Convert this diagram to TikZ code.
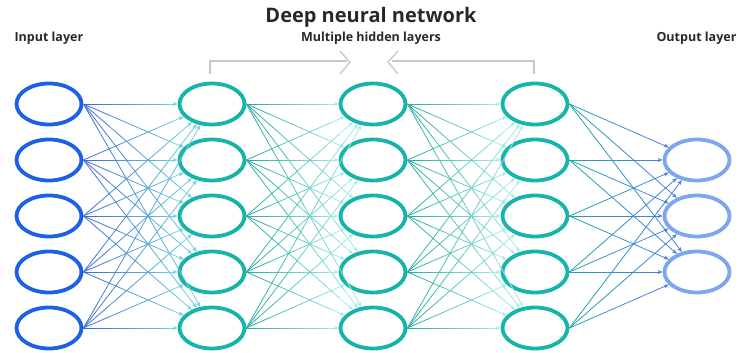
\documentclass[tikz,border=0pt]{standalone}
\usepackage{fontspec}
\setmainfont{Open Sans}
\usetikzlibrary{shapes.geometric,calc,arrows.meta}
\definecolor{inblue}{RGB}{30,95,232}
\definecolor{hidteal}{RGB}{22,180,170}
\definecolor{outblue}{RGB}{125,165,240}
\definecolor{einS}{RGB}{60,105,205}
\definecolor{einE}{RGB}{110,210,220}
\definecolor{ehS}{RGB}{35,170,160}
\definecolor{ehE}{RGB}{165,235,230}
\definecolor{eoS}{RGB}{35,165,160}
\definecolor{eoE}{RGB}{75,125,230}
\definecolor{brk}{RGB}{200,200,200}
\definecolor{txt}{RGB}{40,40,40}
\newcommand\gradedge[4]{%
  \path let \p1=($(#1.east)-(#2.center)$), \n1={atan2(\y1,\x1)} in coordinate (E) at (#2.\n1);
  \foreach \k in {0,...,6}{%
    \pgfmathsetmacro\pa{\k/8}\pgfmathsetmacro\pb{(\k+1)/8}\pgfmathsetmacro\mx{100-100*(\k+0.5)/8}%
    \draw[edgeline, color=#3!\mx!#4] ($(#1.east)!\pa!(E)$) -- ($(#1.east)!\pb!(E)$);
  }
  \draw[edgeline, color=#4, -{Stealth[length=5pt,width=4pt]}] ($(#1.east)!0.875!(E)$) -- (E);
}
\begin{document}
\begin{tikzpicture}[x=1pt,y=-1pt,
  neuron/.style={ellipse,draw,line width=3.8pt,minimum width=65pt,minimum height=41pt,inner sep=0pt},
  edgeline/.style={line width=0.8pt},
  lbl/.style={font=\fontsize{12.5}{14}\selectfont\bfseries, text=txt},
  brkline/.style={draw=brk,line width=1.3pt}]
\useasboundingbox (0,0) rectangle (739,353);
\node[font=\fontsize{20}{22}\selectfont\bfseries, text=txt] (title) at (371,17) {Deep neural network};
\node[lbl,anchor=west] (inlbl) at (11,38) {Input layer};
\node[lbl] (hidlbl) at (371,38) {Multiple hidden layers};
\node[lbl,anchor=east] (outlbl) at (740,38) {Output layer};
% bracket
\draw[brkline] (210,74) -- (210,61) -- (347,61);
\draw[brkline] (340,51) -- (350,62) -- (340,74);
\draw[brkline] (398,51) -- (388,62) -- (398,74);
\draw[brkline] (392,61) -- (534,61) -- (534,74);
% nodes
\foreach \i in {1,...,5}{
  \node[neuron,draw=inblue] (i\i) at (49,{104+56*(\i-1)}) {};
  \node[neuron,draw=hidteal] (a\i) at (212,{104+56*(\i-1)}) {};
  \node[neuron,draw=hidteal] (b\i) at (373,{104+56*(\i-1)}) {};
  \node[neuron,draw=hidteal] (c\i) at (535,{104+56*(\i-1)}) {};
}
\foreach \j in {1,2,3}{
  \node[neuron,draw=outblue] (o\j) at (697,{160+56*(\j-1)}) {};
}
% edges
\foreach \i in {1,...,5}{
  \foreach \j in {1,...,5}{
    \gradedge{i\i}{a\j}{einS}{einE}
    \gradedge{a\i}{b\j}{ehS}{ehE}
    \gradedge{b\i}{c\j}{ehS}{ehE}
  }
  \foreach \j in {1,2,3}{
    \gradedge{c\i}{o\j}{eoS}{eoE}
  }
}
\end{tikzpicture}
\end{document}
